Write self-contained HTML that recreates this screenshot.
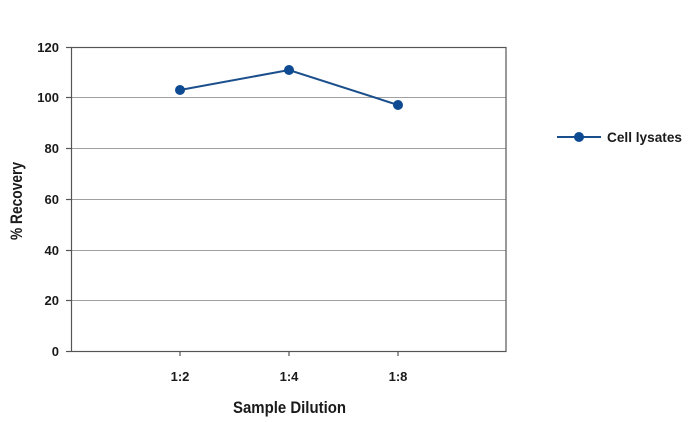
<!DOCTYPE html>
<html><head><style>body{margin:0;background:#fff}svg{display:block}text{font-family:"Liberation Sans Narrow","Liberation Sans",sans-serif;font-weight:bold;fill:#1a1a1a}</style></head>
<body>
<svg width="694" height="422" viewBox="0 0 694 422">
<g stroke="#a0a0a0" stroke-width="1">
<line x1="71" x2="506" y1="97.5" y2="97.5"/>
<line x1="71" x2="506" y1="148.5" y2="148.5"/>
<line x1="71" x2="506" y1="199.5" y2="199.5"/>
<line x1="71" x2="506" y1="250.5" y2="250.5"/>
<line x1="71" x2="506" y1="300.5" y2="300.5"/>
</g>
<rect x="71.5" y="47.5" width="434.5" height="304" fill="none" stroke="#555" stroke-width="1.2"/>
<g stroke="#555" stroke-width="1.2">
<line x1="66" x2="71" y1="47.5" y2="47.5"/><line x1="66" x2="71" y1="97.5" y2="97.5"/>
<line x1="66" x2="71" y1="148.5" y2="148.5"/><line x1="66" x2="71" y1="199.5" y2="199.5"/>
<line x1="66" x2="71" y1="250.5" y2="250.5"/><line x1="66" x2="71" y1="300.5" y2="300.5"/>
<line x1="66" x2="71" y1="351.5" y2="351.5"/>
<line x1="180" x2="180" y1="351" y2="356"/><line x1="289" x2="289" y1="351" y2="356"/><line x1="398" x2="398" y1="351" y2="356"/>
</g>
<g font-size="13" text-anchor="end">
<text x="59" y="52">120</text><text x="59" y="102">100</text><text x="59" y="153">80</text>
<text x="59" y="204">60</text><text x="59" y="255">40</text><text x="59" y="305">20</text><text x="59" y="356">0</text>
</g>
<g font-size="13" text-anchor="middle">
<text x="180" y="381">1:2</text><text x="289" y="381">1:4</text><text x="398" y="381">1:8</text>
</g>
<text x="233" y="413" font-size="17" textLength="113" lengthAdjust="spacingAndGlyphs">Sample Dilution</text>
<text transform="translate(22,240) rotate(-90)" font-size="17" textLength="78" lengthAdjust="spacingAndGlyphs">% Recovery</text>
<polyline points="180,90 289,70 398,105" fill="none" stroke="#1b4f8c" stroke-width="2"/>
<g fill="#0d4a91"><circle cx="180" cy="90" r="5"/><circle cx="289" cy="70" r="5"/><circle cx="398" cy="105" r="5"/></g>
<line x1="557" x2="601" y1="137" y2="137" stroke="#1b4f8c" stroke-width="2"/>
<circle cx="579" cy="137" r="5" fill="#0d4a91"/>
<text x="607" y="142" font-size="14" textLength="75" lengthAdjust="spacingAndGlyphs">Cell lysates</text>
</svg>
</body></html>
